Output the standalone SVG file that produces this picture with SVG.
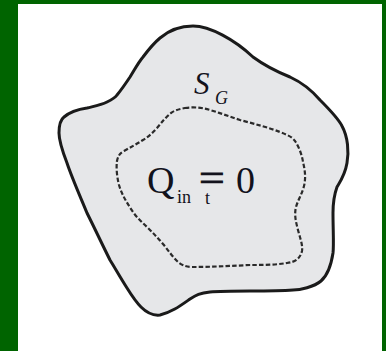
<svg xmlns="http://www.w3.org/2000/svg" width="386" height="351" viewBox="0 0 386 351">
<style>
.outer{fill:#e6e7e9;stroke:#1a1a1a;stroke-width:3;stroke-linejoin:round}
.inner{fill:none;stroke:#2a2a2a;stroke-width:2.2;stroke-dasharray:4.5 2.2}
.t{font-family:'Liberation Serif','DejaVu Serif',serif;fill:#12121c}
</style>
<rect x="0" y="0" width="386" height="351" fill="#006400"/>
<rect x="18" y="4" width="364" height="347" fill="#ffffff"/>
<g id="region">
<path class="outer" d="M193,26 C210,26 235,40 253,57 C268,68 280,73 290,77 C303,83 314,93 320,100 C330,110 338,118 342,126 C348,137 349,152 347,163 C345,175 340,182 337,187 C333,198 333,206 333,213 C333,230 334,245 333,253 C331,266 328,275 321,281 C314,287 300,290 293,290 C280,291 265,291 250,291 C235,291 220,291 210,292 C200,293 196,295 190,299 C180,306 172,312 160,315 C152,316 146,312 141,307 C136,302 132,296 127,288 C120,277 115,268 110,260 C102,244 95,229 87,213 C80,196 72,178 67,163 C62,150 59,140 59,133 C59,126 60,120 64,117 C71,111 80,109 87,108 C95,106 101,105 107,102 C113,99 115,98 117,95 C122,89 126,83 130,77 C135,69 138,63 143,57 C149,49 154,43 160,38 C167,32 177,26 193,26 Z"/>
</g>
<g id="boundary">
<path class="inner" d="M185,108 C192,107 200,107 210,110 C220,113 228,116 240,120 C255,124 270,128 280,132 C288,135 292,137 295,141 C299,147 302,155 303,162 C305,170 306,178 304,186 C302,194 298,200 296,207 C294,215 296,222 298,230 C300,238 303,245 302,251 C300,259 295,262 287,263 C275,265 262,265 250,265 C230,266 210,267 193,267 C186,267 181,265 177,261 C172,256 168,250 163,244 C158,238 153,233 147,227 C142,222 137,218 133,212 C127,203 122,195 119,185 C117,177 116,168 117,161 C118,156 120,153 124,151 C131,147 137,144 143,140 C150,136 153,132 157,128 C162,122 166,117 171,113 C175,110 180,109 185,108 Z"/>
</g>
<g id="labels">
<text class="t" x="194" y="94" font-size="31" font-style="italic">S</text>
<text class="t" x="215" y="104" font-size="18" font-style="italic">G</text>
<text class="t" x="147" y="193" font-size="38">Q</text>
<text class="t" x="177" y="203" font-size="18">in</text>
<text class="t" x="199" y="191" font-size="38" stroke="#12121c" stroke-width="0.8" transform="translate(199 0) scale(1.2 1) translate(-199 0)">=</text>
<text class="t" x="205" y="204" font-size="18">t</text>
<text class="t" x="236" y="193" font-size="38">0</text>
</g>
</svg>
